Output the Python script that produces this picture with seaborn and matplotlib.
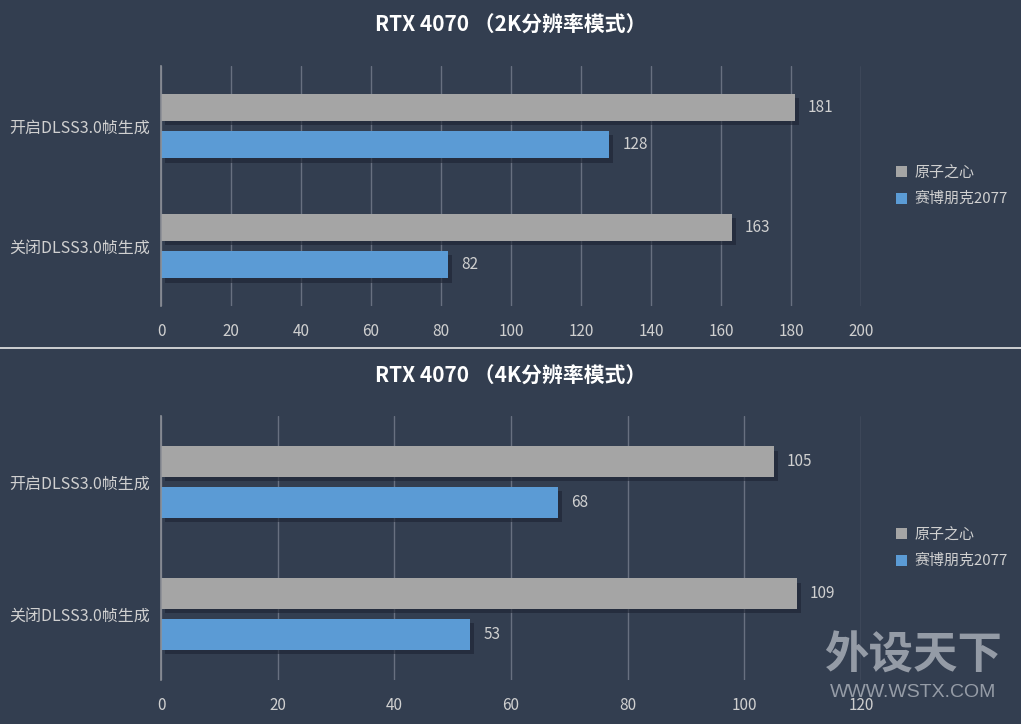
import pandas as pd
import matplotlib.pyplot as plt
import matplotlib.patheffects as pe
import seaborn as sns

# Dados
categorias = ["开启DLSS3.0帧生成", "关闭DLSS3.0帧生成"]
jogos = ["原子之心", "赛博朋克2077"]
fps_2k_atomic = [181, 163]
fps_2k_cyber = [128, 82]
fps_4k_atomic = [105, 109]
fps_4k_cyber = [68, 53]
titulos = ["RTX 4070 （2K分辨率模式）", "RTX 4070 （4K分辨率模式）"]
ticks_2k = [0, 20, 40, 60, 80, 100, 120, 140, 160, 180, 200]
ticks_4k = [0, 20, 40, 60, 80, 100, 120]

bg = "#333e50"
cores = ["#a5a5a5", "#5b9bd5"]
txt = "#d0d0d0"

sns.set_style("white")
plt.rcParams['font.family'] = ['Noto Sans CJK SC', 'DejaVu Sans']


def montar_df(a, b):
    linhas = []
    for cat, va, vb in zip(categorias, a, b):
        linhas.append({"cat": cat, "jogo": jogos[0], "fps": va})
        linhas.append({"cat": cat, "jogo": jogos[1], "fps": vb})
    return pd.DataFrame(linhas)


fig = plt.figure(figsize=(10.21, 7.24), dpi=100, facecolor=bg)
ax1 = fig.add_axes([0.1577, 0.5773, 0.6856, 0.3315])
ax2 = fig.add_axes([0.1577, 0.0608, 0.6856, 0.3646])

paineis = [
    (ax1, montar_df(fps_2k_atomic, fps_2k_cyber), ticks_2k, 0.965),
    (ax2, montar_df(fps_4k_atomic, fps_4k_cyber), ticks_4k, 0.481),
]

sombra = [pe.SimplePatchShadow(offset=(3, -3), shadow_rgbFace="#1c2332", alpha=0.6), pe.Normal()]

for i, (ax, df, ticks, ty) in enumerate(paineis):
    ax.set_facecolor(bg)
    sns.barplot(data=df, y="cat", x="fps", hue="jogo", orient="h", palette=cores,
                width=0.62, gap=0.26, ax=ax, saturation=1, zorder=3,
                edgecolor="none", linewidth=0)
    for cont in ax.containers:
        for p in cont:
            p.set_path_effects(sombra)
        ax.bar_label(cont, padding=9.5, color=txt, fontsize=11)
    ax.set_xlim(ticks[0], ticks[-1])
    ax.set_ylim(1.5, -0.5)
    ax.set_xticks(ticks)
    ax.grid(True, axis="x", color="#687080", lw=1, zorder=0)
    ax.set_axisbelow(True)
    for s in ["top", "right", "bottom"]:
        ax.spines[s].set_visible(False)
    ax.spines["left"].set_color("#8c8f96")
    ax.spines["left"].set_linewidth(1.2)
    ax.spines["left"].set_zorder(4)
    ax.tick_params(axis="x", length=0, colors=txt, labelsize=11, pad=12)
    ax.tick_params(axis="y", length=0, colors=txt, labelsize=11.5, pad=8)
    ax.set_xlabel("")
    ax.set_ylabel("")
    handles, labels = ax.get_legend_handles_labels()
    for h in handles:
        h.set_edgecolor("none")
    ax.legend(handles, labels, loc="center left", bbox_to_anchor=(1.03, 0.5), frameon=False,
              handlelength=0.75, handleheight=0.75, handletextpad=0.5, labelspacing=0.8,
              fontsize=10.8, labelcolor=txt)
    fig.text(0.5, ty, titulos[i], ha="center", va="center", color="white",
             fontsize=15, fontweight="bold")

# Linha separadora
fig.add_artist(plt.Line2D([0, 1], [0.5193, 0.5193], color="#e8e8e8", lw=1.2))

# Marca d'agua
fig.text(0.894, 0.094, "外设天下", ha="center", va="center", color="#a0a6b0",
         fontsize=32, fontweight="heavy", alpha=0.9)
fig.text(0.894, 0.044, "WWW.WSTX.COM", ha="center", va="center", color="#a0a6b0",
         fontsize=14, family="Liberation Sans", alpha=0.9)

fig.savefig("out.png", dpi=100, facecolor=bg)
